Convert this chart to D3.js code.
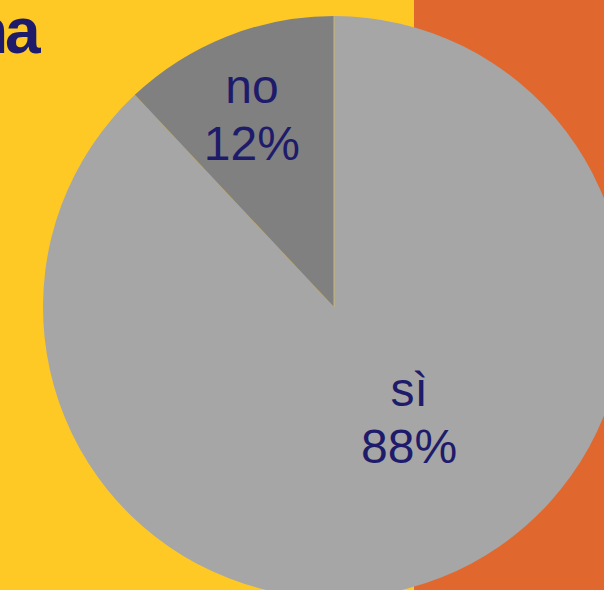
<!DOCTYPE html>
<html>
<head>
<meta charset="utf-8">
<script src="https://cdn.jsdelivr.net/npm/d3@7"></script>
<style>
  html, body { margin: 0; padding: 0; background: #FEC925; }
  svg { display: block; }
</style>
</head>
<body>
<svg id="chart" width="604" height="590"></svg>
<script>
// Survey answers and their shares (percent)
const answers = ["sì", "no"];
const shares = [88, 12];
const sliceColors = ["#A6A6A6", "#808080"];
// Label anchors in polar form: angle (degrees, clockwise from top) and distance from centre
const labelAngles = [149.2, -24.9];
const labelDistances = [146.6, 195];

const width = 604, height = 590;
const cx = 334, cy = 307, radius = 291;

const svg = d3.select("#chart");

// Backdrop: yellow panel with an orange band on the right
svg.append("rect").attr("x", 0).attr("y", 0).attr("width", width).attr("height", height).attr("fill", "#FEC925");
svg.append("rect").attr("x", 414).attr("y", 0).attr("width", width - 414).attr("height", height).attr("fill", "#E0682E");

// Tail of the heading that runs off the left edge
svg.append("text")
  .attr("x", -31).attr("y", 53)
  .attr("text-anchor", "start")
  .attr("font-family", "'Liberation Sans', Arial, sans-serif")
  .attr("font-weight", "bold")
  .attr("font-size", 64)
  .attr("letter-spacing", -3)
  .attr("fill", "#1E1B6B")
  .text("na");

const data = answers.map((a, i) => ({ answer: a, share: shares[i], color: sliceColors[i] }));

const pie = d3.pie().sort(null).value(d => d.share);
const arc = d3.arc().innerRadius(0).outerRadius(radius);

const g = svg.append("g").attr("transform", `translate(${cx},${cy})`);

g.selectAll("path.slice")
  .data(pie(data))
  .join("path")
  .attr("class", "slice")
  .attr("d", arc)
  .attr("fill", d => d.data.color);

// Thin seam at the start of the first slice
g.append("line")
  .attr("x1", 0).attr("y1", 0)
  .attr("x2", 0).attr("y2", -radius)
  .attr("stroke", "#C9B56A").attr("stroke-width", 1);

const labels = g.selectAll("g.label")
  .data(data)
  .join("g")
  .attr("class", "label")
  .attr("transform", (d, i) => {
    const [x, y] = d3.pointRadial(labelAngles[i] * Math.PI / 180, labelDistances[i]);
    return `translate(${x},${y})`;
  });

labels.append("text")
  .attr("y", -27)
  .attr("text-anchor", "middle")
  .attr("font-family", "'Liberation Sans', Arial, sans-serif")
  .attr("font-size", 48)
  .attr("fill", "#1E1B6B")
  .text(d => d.answer);

labels.append("text")
  .attr("y", 30)
  .attr("text-anchor", "middle")
  .attr("font-family", "'Liberation Sans', Arial, sans-serif")
  .attr("font-size", 48)
  .attr("fill", "#1E1B6B")
  .text(d => d.share + "%");
</script>
</body>
</html>
